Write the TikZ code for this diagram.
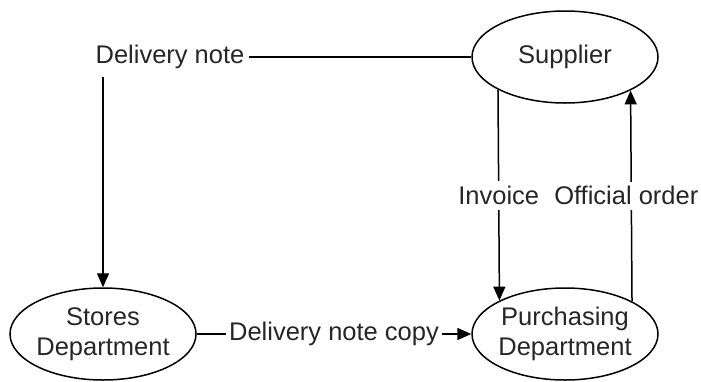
\documentclass[tikz,border=0pt]{standalone}
\usepackage{fontspec}
\setmainfont{Liberation Sans}
\usetikzlibrary{shapes.geometric,arrows.meta}
\begin{document}
\begin{tikzpicture}[x=1pt,y=-1pt,
  every node/.style={font=\fontsize{25.5}{30}\selectfont, text=black!85},
  ellbox/.style={ellipse, draw, line width=1.5pt, minimum width=186pt, minimum height=92pt, inner sep=0pt},
  txt/.style={align=center, inner sep=0pt},
  lbl/.style={fill=white, inner xsep=3pt, inner ysep=5pt},
  conn/.style={line width=1.5pt},
  arr/.style={conn, -{Triangle[length=14pt,width=12pt]}}]
\useasboundingbox (0,0) rectangle (701,381);
% ellipses
\node[ellbox] (supplier) at (565,57) {};
\node[txt] (supplier-t) at (supplier) {Supplier};
\node[ellbox] (stores) at (103,334) {};
\node[txt] (stores-t) at (stores) {Stores\\Department};
\node[ellbox] (purch) at (565,334) {};
\node[txt] (purch-t) at (purch) {Purchasing\\Department};
% delivery note
\node[inner sep=4pt] (dn) at (170,57) {Delivery note};
\draw[conn] (supplier.west) -- (dn.east);
\coordinate (dnstart) at ([yshift=-4pt]dn.south -| stores.north);
\draw[arr] (dnstart) -- (stores.north);
% delivery note copy
\draw[arr] (stores.east) -- node[lbl] (dnc) {Delivery note copy} (purch.west);
% invoice
\draw[arr] (supplier.206.85) -- node[lbl] (inv) {Invoice} (purch.153.15);
% official order
\draw[arr] (purch.26.85) -- node[lbl, xshift=-5pt] (oo) {Official order} (supplier.333.15);
\end{tikzpicture}
\end{document}
